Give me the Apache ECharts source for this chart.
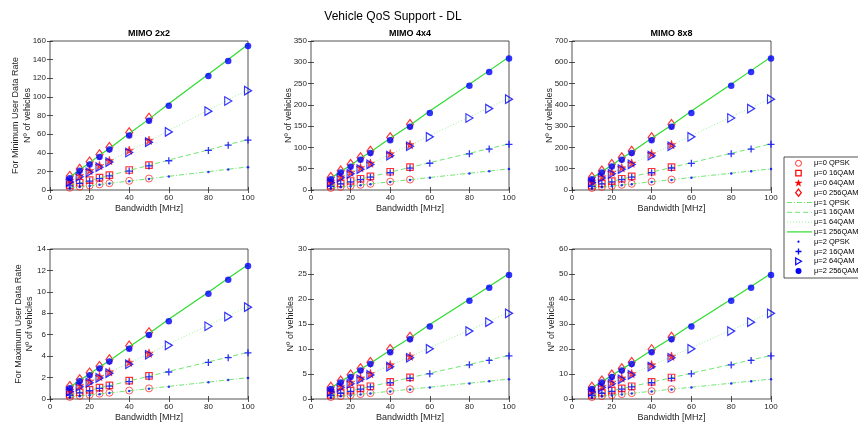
<!DOCTYPE html>
<html>
<head>
<meta charset="utf-8">
<title>Vehicle QoS Support - DL</title>
<script src="https://cdn.jsdelivr.net/npm/echarts@6/dist/echarts.min.js"></script>
<style>
  html, body { margin: 0; padding: 0; background: #ffffff; }
  #chart { width: 858px; height: 427px; }
</style>
</head>
<body>
<div id="chart"></div>
<script>
// Channel bandwidths [MHz] evaluated for each numerology
const bandwidthMu0 = [10, 15, 20, 25, 30, 40, 50];
const bandwidthMu12 = [10, 15, 20, 25, 30, 40, 50, 60, 80, 90, 100];
const modulations = ['QPSK', '16QAM', '64QAM', '256QAM'];
const numerologies = ['μ=0', 'μ=1', 'μ=2'];
const panelTitles = ['MIMO 2x2', 'MIMO 4x4', 'MIMO 8x8'];
const rowLabels = ['For Minimum User Data Rate', 'For Maximum User Data Rate'];
const yMaxima = [160, 350, 700, 14, 30, 60];
const yIntervals = [20, 50, 100, 2, 5, 10];

// Number of vehicles, rows ordered QPSK, 16QAM, 64QAM, 256QAM
// --- minimum user data rate ---
const min2x2Mu0 = [
  [2.4, 3.6, 4.8, 6.0, 7.3, 9.8, 12.3],
  [5.2, 7.8, 10.5, 13.2, 15.9, 21.5, 26.8],
  [10.3, 15.6, 21.0, 26.3, 31.6, 42.7, 53.4],
  [14.9, 22.6, 30.3, 38.1, 45.8, 61.8, 77.3]
];
const min2x2Mu1 = [
  [2.2, 3.5, 4.6, 5.9, 7.1, 9.6, 12.1, 14.7, 19.7, 22.3, 24.8],
  [4.8, 7.6, 10.1, 12.9, 15.5, 21.1, 26.4, 32.2, 43.1, 48.7, 54.2],
  [9.5, 15.0, 20.2, 25.7, 30.8, 41.9, 52.6, 64.0, 85.8, 96.8, 107.9],
  [13.7, 21.7, 29.2, 37.2, 44.6, 60.7, 76.1, 92.7, 124.2, 140.2, 156.2]
];
const min2x2Mu2 = [
  [2.0, 3.3, 4.4, 5.6, 6.9, 9.3, 11.8, 14.4, 19.4, 22.0, 24.5],
  [4.4, 7.2, 9.5, 12.3, 15.1, 20.3, 25.8, 31.4, 42.5, 48.1, 53.6],
  [8.7, 14.2, 19.0, 24.5, 30.0, 40.3, 51.4, 62.4, 84.6, 95.6, 106.7],
  [12.6, 20.6, 27.5, 35.5, 43.5, 58.4, 74.4, 90.4, 122.5, 138.5, 154.5]
];
const min4x4Mu0 = [
  [4.7, 7.2, 9.6, 12.1, 14.5, 19.6, 24.5],
  [10.3, 15.7, 21.1, 26.4, 31.8, 42.9, 53.6],
  [20.6, 31.2, 41.9, 52.6, 63.2, 85.4, 106.7],
  [29.8, 45.2, 60.7, 76.1, 91.6, 123.6, 154.5]
];
const min4x4Mu1 = [
  [4.4, 6.9, 9.3, 11.8, 14.2, 19.3, 24.2, 29.4, 39.4, 44.5, 49.6],
  [9.5, 15.1, 20.3, 25.8, 31.0, 42.1, 52.8, 64.3, 86.2, 97.3, 108.4],
  [19.0, 30.0, 40.3, 51.4, 61.7, 83.8, 105.1, 128.0, 171.5, 193.6, 215.8],
  [27.5, 43.5, 58.4, 74.4, 89.3, 121.3, 152.2, 185.4, 248.3, 280.4, 312.4]
];
const min4x4Mu2 = [
  [4.0, 6.5, 8.7, 11.3, 13.8, 18.5, 23.6, 28.7, 38.9, 44.0, 49.1],
  [8.7, 14.3, 19.1, 24.6, 30.2, 40.5, 51.6, 62.8, 85.0, 96.1, 107.2],
  [17.4, 28.5, 37.9, 49.0, 60.1, 80.6, 102.8, 124.9, 169.1, 191.3, 213.4],
  [25.2, 41.2, 54.9, 71.0, 87.0, 116.7, 148.8, 180.8, 244.9, 276.9, 309.0]
];
const min8x8Mu0 = [
  [9.4, 14.4, 19.3, 24.2, 29.1, 39.2, 49.1],
  [20.6, 31.4, 42.1, 52.8, 63.6, 85.8, 107.2],
  [41.1, 62.4, 83.8, 105.1, 126.5, 170.7, 213.4],
  [59.5, 90.4, 121.3, 152.2, 183.1, 247.2, 309.0]
];
const min8x8Mu1 = [
  [8.7, 13.8, 18.5, 23.6, 28.4, 38.5, 48.3, 58.9, 78.9, 89.0, 99.2],
  [19.1, 30.2, 40.5, 51.6, 62.0, 84.2, 105.6, 128.7, 172.4, 194.6, 216.9],
  [37.9, 60.1, 80.6, 102.8, 123.3, 167.6, 210.2, 256.1, 343.0, 387.3, 431.6],
  [54.9, 87.0, 116.7, 148.8, 178.5, 242.6, 304.4, 370.8, 496.7, 560.8, 624.8]
];
const min8x8Mu2 = [
  [8.0, 13.1, 17.4, 22.5, 27.6, 37.1, 47.2, 57.4, 77.8, 88.0, 98.1],
  [17.5, 28.6, 38.1, 49.2, 60.4, 81.0, 103.3, 125.5, 170.0, 192.2, 214.5],
  [34.8, 56.9, 75.9, 98.0, 120.2, 161.2, 205.5, 249.8, 338.3, 382.6, 426.8],
  [50.4, 82.4, 109.9, 141.9, 174.0, 233.4, 297.6, 361.6, 489.8, 553.9, 618.0]
];
// --- maximum user data rate ---
const max2x2Mu0 = [
  [0.19, 0.29, 0.39, 0.49, 0.58, 0.79, 0.99],
  [0.41, 0.63, 0.85, 1.06, 1.28, 1.72, 2.15],
  [0.83, 1.25, 1.68, 2.11, 2.54, 3.43, 4.28],
  [1.19, 1.81, 2.44, 3.06, 3.68, 4.96, 6.20]
];
const max2x2Mu1 = [
  [0.18, 0.28, 0.37, 0.47, 0.57, 0.77, 0.97, 1.18, 1.58, 1.79, 1.99],
  [0.38, 0.61, 0.81, 1.04, 1.24, 1.69, 2.12, 2.58, 3.46, 3.91, 4.35],
  [0.76, 1.21, 1.62, 2.06, 2.48, 3.36, 4.22, 5.14, 6.89, 7.77, 8.66],
  [1.10, 1.75, 2.34, 2.99, 3.58, 4.87, 6.11, 7.44, 9.97, 11.26, 12.54]
];
const max2x2Mu2 = [
  [0.16, 0.26, 0.35, 0.45, 0.55, 0.74, 0.95, 1.15, 1.56, 1.77, 1.97],
  [0.35, 0.57, 0.77, 0.99, 1.21, 1.63, 2.07, 2.52, 3.41, 3.86, 4.31],
  [0.70, 1.14, 1.52, 1.97, 2.41, 3.24, 4.13, 5.01, 6.79, 7.68, 8.57],
  [1.01, 1.65, 2.21, 2.85, 3.49, 4.69, 5.97, 7.26, 9.83, 11.12, 12.41]
];
const max4x4Mu0 = [
  [0.38, 0.58, 0.77, 0.97, 1.17, 1.58, 1.97],
  [0.83, 1.26, 1.69, 2.12, 2.55, 3.44, 4.31],
  [1.65, 2.51, 3.36, 4.22, 5.08, 6.85, 8.57],
  [2.39, 3.63, 4.87, 6.11, 7.35, 9.93, 12.41]
];
const max4x4Mu1 = [
  [0.35, 0.55, 0.74, 0.95, 1.14, 1.55, 1.94, 2.36, 3.17, 3.57, 3.98],
  [0.77, 1.21, 1.63, 2.07, 2.49, 3.38, 4.24, 5.17, 6.92, 7.81, 8.71],
  [1.52, 2.41, 3.24, 4.13, 4.95, 6.73, 8.44, 10.28, 13.77, 15.55, 17.33],
  [2.20, 3.49, 4.69, 5.97, 7.17, 9.74, 12.22, 14.89, 19.94, 22.51, 25.09]
];
const max4x4Mu2 = [
  [0.32, 0.53, 0.70, 0.90, 1.11, 1.49, 1.90, 2.31, 3.12, 3.53, 3.94],
  [0.70, 1.15, 1.53, 1.98, 2.42, 3.25, 4.15, 5.04, 6.83, 7.72, 8.61],
  [1.40, 2.29, 3.05, 3.93, 4.82, 6.47, 8.25, 10.03, 13.58, 15.36, 17.13],
  [2.02, 3.31, 4.41, 5.70, 6.98, 9.37, 11.95, 14.52, 19.67, 22.24, 24.81]
];
const max8x8Mu0 = [
  [0.76, 1.15, 1.55, 1.94, 2.34, 3.15, 3.94],
  [1.66, 2.52, 3.38, 4.24, 5.10, 6.89, 8.61],
  [3.30, 5.01, 6.73, 8.44, 10.16, 13.71, 17.14],
  [4.78, 7.26, 9.74, 12.22, 14.70, 19.85, 24.81]
];
const max8x8Mu1 = [
  [0.70, 1.11, 1.49, 1.90, 2.28, 3.09, 3.88, 4.73, 6.33, 7.15, 7.97],
  [1.53, 2.43, 3.25, 4.15, 4.98, 6.76, 8.48, 10.33, 13.84, 15.63, 17.42],
  [3.04, 4.82, 6.48, 8.25, 9.90, 13.46, 16.88, 20.56, 27.55, 31.10, 34.65],
  [4.41, 6.98, 9.37, 11.95, 14.34, 19.48, 24.44, 29.78, 39.88, 45.03, 50.18]
];
const max8x8Mu2 = [
  [0.64, 1.05, 1.40, 1.81, 2.22, 2.98, 3.79, 4.61, 6.24, 7.06, 7.88],
  [1.40, 2.30, 3.06, 3.95, 4.85, 6.51, 8.29, 10.08, 13.65, 15.44, 17.22],
  [2.79, 4.57, 6.09, 7.87, 9.65, 12.95, 16.50, 20.06, 27.16, 30.72, 34.27],
  [4.04, 6.62, 8.82, 11.40, 13.97, 18.75, 23.89, 29.04, 39.33, 44.48, 49.62]
];

const panels = [
  { mu0: min2x2Mu0, mu1: min2x2Mu1, mu2: min2x2Mu2 },
  { mu0: min4x4Mu0, mu1: min4x4Mu1, mu2: min4x4Mu2 },
  { mu0: min8x8Mu0, mu1: min8x8Mu1, mu2: min8x8Mu2 },
  { mu0: max2x2Mu0, mu1: max2x2Mu1, mu2: max2x2Mu2 },
  { mu0: max4x4Mu0, mu1: max4x4Mu1, mu2: max4x4Mu2 },
  { mu0: max8x8Mu0, mu1: max8x8Mu1, mu2: max8x8Mu2 }
];

// ---------------- styling ----------------
const FONT = '"Liberation Sans", Arial, Helvetica, sans-serif';
const AXIS_COLOR = '#262626';
const RED = '#ff0000';
const BLUE = '#0000ff';
const GREEN = '#2edc2e';

// star outline in a 100x100 box (x 2.45..97.55, y 0..90.45)
const STAR_POINTS = [[50, 0], [61.17, 34.63], [97.55, 34.55], [68.07, 55.87], [79.39, 90.45],
  [50, 69], [20.61, 90.45], [31.93, 55.87], [2.45, 34.55], [38.83, 34.63]];
const STAR = 'path://M' + STAR_POINTS.map(p => p.join(',')).join('L') + 'Z';
const PLUS = 'path://M0,5L10,5M5,0L5,10';
const TRI_RIGHT = 'path://M0,0L10,5L0,10Z';
const DIAMOND = 'path://M5,0L10,6.5L5,13L0,6.5Z';

const mu0Styles = [
  { symbol: 'circle', symbolSize: 7, itemStyle: { color: 'transparent', borderColor: RED, borderWidth: 0.8 } },
  { symbol: 'rect', symbolSize: 6.5, itemStyle: { color: 'transparent', borderColor: RED, borderWidth: 1.2 } },
  { symbol: STAR, symbolSize: 8.5, itemStyle: { color: RED, borderColor: RED, borderWidth: 0.6 } },
  { symbol: DIAMOND, symbolSize: [7, 9.5], itemStyle: { color: 'transparent', borderColor: RED, borderWidth: 1.2 } }
];
const mu1Styles = [
  { color: '#5fe35f', type: [5, 2, 1, 2], width: 0.9 },
  { color: '#5fe35f', type: [5, 3], width: 0.9 },
  { color: '#8ff08f', type: [1, 2], width: 0.9 },
  { color: GREEN, type: 'solid', width: 1.2 }
];
const mu2Styles = [
  { symbol: 'circle', symbolSize: 2.5, itemStyle: { color: BLUE } },
  { symbol: PLUS, symbolSize: 7, itemStyle: { color: 'transparent', borderColor: BLUE, borderWidth: 1.3 } },
  { symbol: TRI_RIGHT, symbolSize: [7, 8.5], itemStyle: { color: 'transparent', borderColor: BLUE, borderWidth: 1.2 } },
  { symbol: 'circle', symbolSize: 6.5, itemStyle: { color: BLUE } }
];

// Subplot geometry (pixels)
const gridLeft = [50, 311, 572];
const gridWidth = [198, 198, 199];
const rowTop = [41, 249];
const rowHeight = [149, 150];
// distance of the "Nº of vehicles" label from the axis, per row
const yNameOffset = [22.5, 20];

const grids = [], xAxes = [], yAxes = [], series = [], graphics = [];

const tickStyle = { inside: true, length: 3, lineStyle: { color: AXIS_COLOR, width: 0.8 } };
const labelStyle = { color: AXIS_COLOR, fontSize: 8, fontFamily: FONT, margin: 4 };

panels.forEach((panel, i) => {
  const col = i % 3;
  const row = Math.floor(i / 3);
  grids.push({
    left: gridLeft[col], top: rowTop[row], width: gridWidth[col], height: rowHeight[row],
    show: true, borderColor: AXIS_COLOR, borderWidth: 0.8, backgroundColor: '#ffffff',
    containLabel: false, outerBoundsMode: 'none'
  });

  const xCommon = { gridIndex: i, type: 'value', min: 0, max: 100, interval: 20,
    axisLine: { show: false }, axisTick: tickStyle, splitLine: { show: false } };
  xAxes.push(Object.assign({}, xCommon, {
    position: 'bottom', axisLabel: labelStyle,
    name: 'Bandwidth [MHz]', nameLocation: 'middle', nameGap: 14.5,
    nameTextStyle: { color: AXIS_COLOR, fontSize: 9, fontFamily: FONT }
  }));
  xAxes.push(Object.assign({}, xCommon, { position: 'top', axisLabel: { show: false } }));

  const yCommon = { gridIndex: i, type: 'value', min: 0, max: yMaxima[i], interval: yIntervals[i],
    axisLine: { show: false }, axisTick: tickStyle, splitLine: { show: false } };
  yAxes.push(Object.assign({}, yCommon, { position: 'left', axisLabel: labelStyle }));
  yAxes.push(Object.assign({}, yCommon, { position: 'right', axisLabel: { show: false } }));

  const axisIdx = 2 * i;
  modulations.forEach((mod, m) => {
    series.push(Object.assign({
      type: 'scatter', name: numerologies[0] + ' ' + mod, xAxisIndex: axisIdx, yAxisIndex: axisIdx,
      data: bandwidthMu0.map((x, k) => [x, panel.mu0[m][k]]), z: 2, silent: true
    }, mu0Styles[m]));
  });
  modulations.forEach((mod, m) => {
    series.push({
      type: 'line', name: numerologies[1] + ' ' + mod, xAxisIndex: axisIdx, yAxisIndex: axisIdx,
      data: bandwidthMu12.map((x, k) => [x, panel.mu1[m][k]]),
      symbol: 'none', z: 3, silent: true,
      lineStyle: mu1Styles[m], itemStyle: { color: mu1Styles[m].color }
    });
  });
  modulations.forEach((mod, m) => {
    series.push(Object.assign({
      type: 'scatter', name: numerologies[2] + ' ' + mod, xAxisIndex: axisIdx, yAxisIndex: axisIdx,
      data: bandwidthMu12.map((x, k) => [x, panel.mu2[m][k]]), z: 4, silent: true
    }, mu2Styles[m]));
  });

  // y-axis labels
  const cy = rowTop[row] + rowHeight[row] / 2;
  const axisX = gridLeft[col];
  graphics.push({
    type: 'text', x: axisX - yNameOffset[row], y: cy, rotation: Math.PI / 2,
    style: { text: 'Nº of vehicles', fill: AXIS_COLOR, font: '9px ' + FONT,
      textAlign: 'center', textVerticalAlign: 'middle' }
  });
  if (col === 0) {
    graphics.push({
      type: 'text', x: axisX - yNameOffset[row] - 11.5, y: cy, rotation: Math.PI / 2,
      style: { text: rowLabels[row], fill: AXIS_COLOR, font: '9px ' + FONT,
        textAlign: 'center', textVerticalAlign: 'middle' }
    });
  }
  if (row === 0) {
    graphics.push({
      type: 'text', x: gridLeft[col] + gridWidth[col] / 2, y: 34,
      style: { text: panelTitles[col], fill: '#000000', font: 'bold 9px ' + FONT,
        textAlign: 'center', textVerticalAlign: 'middle' }
    });
  }
});

graphics.push({
  type: 'text', x: 393, y: 17,
  style: { text: 'Vehicle QoS Support - DL', fill: '#000000', font: '12px ' + FONT,
    textAlign: 'center', textVerticalAlign: 'middle' }
});

// ---------------- legend box (drawn as graphic elements) ----------------
const LEG = { left: 784, top: 157, width: 80, height: 121, firstRow: 163.3, pitch: 9.8,
  lineX1: 787, lineX2: 812, markX: 798.5, textX: 814 };

function legendIcon(mu, m, cy) {
  const cx = LEG.markX;
  if (mu === 1) {
    const st = mu1Styles[m];
    return { type: 'line', shape: { x1: LEG.lineX1, y1: cy, x2: LEG.lineX2, y2: cy },
      style: { stroke: st.color, lineWidth: st.width, lineDash: st.type === 'solid' ? null : st.type } };
  }
  if (mu === 0) {
    if (m === 0) return { type: 'circle', shape: { cx: cx, cy: cy, r: 3 },
      style: { fill: 'none', stroke: RED, lineWidth: 0.8 } };
    if (m === 1) return { type: 'rect', shape: { x: cx - 2.7, y: cy - 2.7, width: 5.4, height: 5.4 },
      style: { fill: 'none', stroke: RED, lineWidth: 1.2 } };
    if (m === 2) return { type: 'polygon',
      shape: { points: STAR_POINTS.map(p => [cx - 3.5 + p[0] * 0.07, cy - 3.2 + p[1] * 0.07]) },
      style: { fill: RED, stroke: RED, lineWidth: 0.5 } };
    return { type: 'polygon',
      shape: { points: [[cx, cy - 3.6], [cx + 2.8, cy], [cx, cy + 3.6], [cx - 2.8, cy]] },
      style: { fill: 'none', stroke: RED, lineWidth: 1.2 } };
  }
  if (m === 0) return { type: 'circle', shape: { cx: cx, cy: cy, r: 1.1 }, style: { fill: BLUE } };
  if (m === 1) return { type: 'polyline',
    shape: { points: [[cx - 3, cy], [cx + 3, cy], [cx, cy], [cx, cy - 3], [cx, cy + 3]] },
    style: { fill: null, stroke: BLUE, lineWidth: 1.3 } };
  if (m === 2) return { type: 'polygon',
    shape: { points: [[cx - 2.8, cy - 3.4], [cx + 3, cy], [cx - 2.8, cy + 3.4]] },
    style: { fill: 'none', stroke: BLUE, lineWidth: 1.2 } };
  return { type: 'circle', shape: { cx: cx, cy: cy, r: 3 }, style: { fill: BLUE } };
}

const legendChildren = [{
  type: 'rect', shape: { x: LEG.left, y: LEG.top, width: LEG.width, height: LEG.height },
  style: { fill: '#ffffff', stroke: AXIS_COLOR, lineWidth: 0.8 }
}];
numerologies.forEach((mu, u) => modulations.forEach((mod, m) => {
  const cy = LEG.firstRow + (u * 4 + m) * LEG.pitch;
  legendChildren.push(legendIcon(u, m, cy));
  legendChildren.push({ type: 'text', x: LEG.textX, y: cy,
    style: { text: mu + ' ' + mod, fill: '#000000', font: '7.5px ' + FONT,
      textAlign: 'left', textVerticalAlign: 'middle' } });
}));
graphics.push({ type: 'group', z: 100, children: legendChildren });

const chart = echarts.init(document.getElementById('chart'), null, { renderer: 'canvas' });
chart.setOption({
  animation: false,
  backgroundColor: '#ffffff',
  grid: grids,
  xAxis: xAxes,
  yAxis: yAxes,
  series: series,
  graphic: graphics
});
</script>
</body>
</html>
